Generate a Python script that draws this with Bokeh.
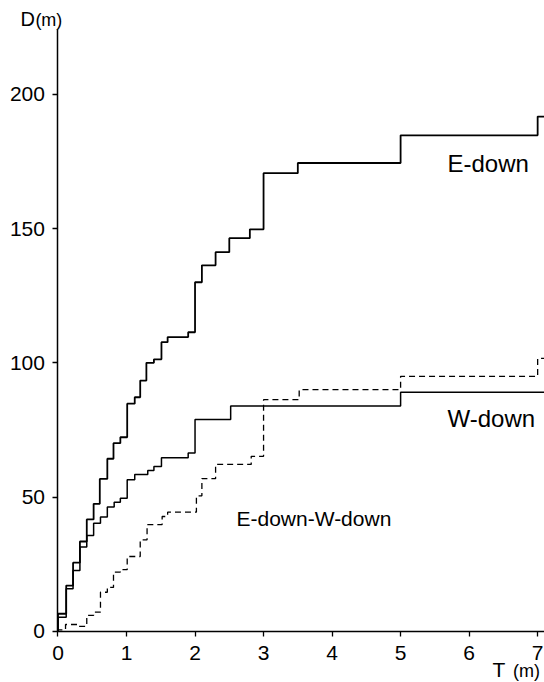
from bokeh.plotting import figure
from bokeh.models import Range1d, FixedTicker, Label
from bokeh.embed import file_html
from bokeh.resources import INLINE

# ---- data (T in min, D in m) ----
e_down_t = [0, 0, 0.12, 0.22, 0.32, 0.42, 0.52, 0.61, 0.72, 0.81, 0.91, 1.01, 1.12, 1.20, 1.29,
            1.40, 1.51, 1.60, 1.90, 2.00, 2.10, 2.30, 2.50, 2.80, 3.00, 3.50, 5.00, 7.00, 7.10]
e_down_d = [0, 6.6, 17.1, 25.6, 33.5, 41.7, 47.5, 56.8, 64.3, 70.1, 72.3, 84.8, 87.2, 93.4, 100.0,
            101.3, 107.7, 109.6, 111.4, 130.0, 136.3, 141.2, 146.4, 149.7, 170.6, 174.4, 184.7, 191.7, 191.7]

w_down_t = [0, 0, 0.12, 0.22, 0.32, 0.42, 0.52, 0.62, 0.72, 0.82, 0.91, 1.01, 1.12, 1.31, 1.40,
            1.51, 1.90, 2.00, 2.52, 5.00, 7.10]
w_down_d = [0, 5.3, 15.9, 22.7, 31.4, 35.7, 40.3, 42.6, 46.3, 48.1, 49.6, 56.5, 58.4, 59.9, 61.4,
            64.7, 66.4, 78.9, 83.9, 89.1, 89.1]

diff_t = [0, 0, 0.11, 0.30, 0.42, 0.52, 0.62, 0.72, 0.81, 0.91, 1.01, 1.20, 1.30, 1.52, 1.60,
          2.02, 2.10, 2.30, 2.82, 3.00, 3.52, 5.00, 7.00, 7.10]
diff_d = [0, 0.6, 2.6, 1.9, 6.0, 7.2, 14.6, 16.4, 22.1, 23.0, 27.9, 34.1, 39.8, 42.8, 44.4,
          50.5, 56.9, 62.2, 65.2, 86.3, 90.0, 95.0, 101.7, 101.7]

x_ticks = [0, 1, 2, 3, 4, 5, 6, 7]
y_ticks = [0, 50, 100, 150, 200]
x_axis_end = 7.1
y_axis_end = 224

FONT = "Liberation Sans"

p = figure(width=544, height=682, output_backend="svg", toolbar_location=None,
           x_range=Range1d(-0.839, 7.1), y_range=Range1d(-19.0, 234.9),
           min_border_left=0, min_border_right=0, min_border_top=0, min_border_bottom=0)
p.title.visible = False
p.outline_line_color = None
p.xgrid.visible = False
p.ygrid.visible = False
p.background_fill_color = "white"
p.border_fill_color = "white"

p.xaxis[0].fixed_location = 0
p.xaxis[0].bounds = (0, x_axis_end)
p.yaxis[0].fixed_location = 0
p.yaxis[0].bounds = (0, y_axis_end)

for ax, ticks in ((p.xaxis[0], x_ticks), (p.yaxis[0], y_ticks)):
    ax.ticker = FixedTicker(ticks=ticks)
    ax.axis_line_color = "black"
    ax.axis_line_width = 1.5
    ax.major_tick_line_color = "black"
    ax.major_tick_line_width = 1.3
    ax.major_tick_out = 5
    ax.major_tick_in = 0
    ax.minor_tick_line_color = None
    ax.major_label_text_font = FONT
    ax.major_label_text_font_size = "21px"
    ax.major_label_text_color = "black"
p.xaxis[0].major_label_standoff = 10
p.yaxis[0].major_label_standoff = 8

p.step(e_down_t, e_down_d, mode="after", line_color="black", line_width=1.8)
p.step(w_down_t, w_down_d, mode="after", line_color="black", line_width=1.5)
p.step(diff_t, diff_d, mode="after", line_color="black", line_width=1.3, line_dash="6 4")

def lab(x, y, t, size, baseline="middle"):
    p.add_layout(Label(x=x, y=y, text=t, text_font=FONT, text_font_size=size,
                       text_color="black", text_baseline=baseline, text_align="left"))

lab(5.684, 174.2, "E-down", "24px")
lab(5.684, 79.3, "W-down", "24px")
lab(2.605, 42.1, "E-down-W-down", "21px")
lab(-0.547, 228.0, "D", "20px")
lab(-0.33, 227.6, "(m)", "18px")
lab(6.34, -14.3, "T", "21px")
lab(6.64, -14.8, "(m)", "18px")

open("out.html", "w").write(file_html(p, INLINE))
